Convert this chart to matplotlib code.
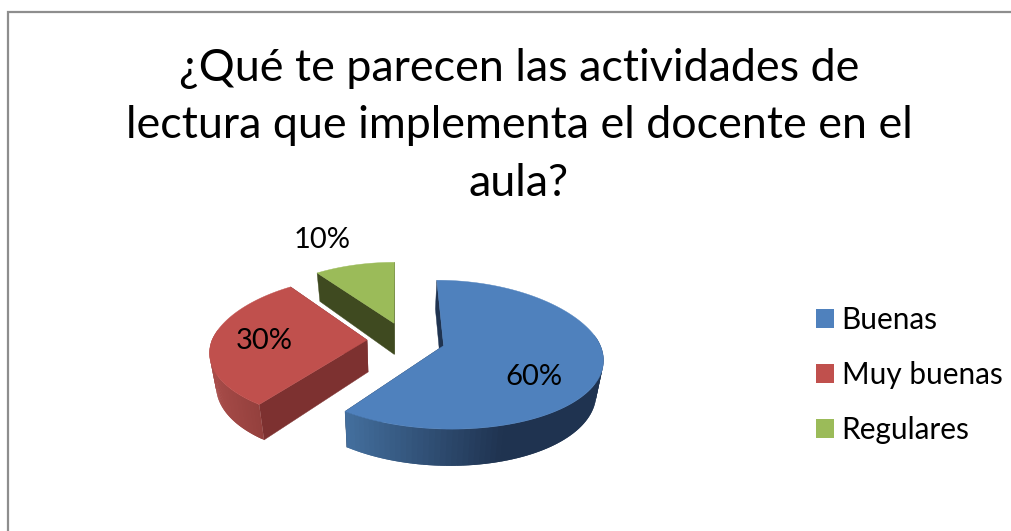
import numpy as np
import matplotlib
matplotlib.use("Agg")
import matplotlib.pyplot as plt
from matplotlib.collections import PolyCollection
from matplotlib.patches import Patch, Polygon, Rectangle
from matplotlib.colors import to_rgb

# Chart data
labels = ["Buenas", "Muy buenas", "Regulares"]
values = [60, 30, 10]
title = "¿Qué te parecen las actividades de\nlectura que implementa el docente en el\naula?"

# Look of each slice
top_colors = ["#4F81BD", "#C0504D", "#9BBB59"]
cut_colors = ["#1F3350", "#7D3130", "#3F4A20"]
arc_left = ["#44709F", "#A84C49", "#7F9A49"]
arc_right = ["#1F3350", "#94403D", "#7F9A49"]
label_pos = [(534, 377), (264, 341), (322, 240)]

# Fake 3D projection, all in pixels of the picture
CX, CY = 406, 340
RX, RY = 155, 72
PERSP = 0.12
VX = 397
EXPLODE = 0.2514
DEPTH = 32


def project(x, y):
    w = 1 + PERSP * y
    wx = 1 + np.where(np.asarray(y) > 0, 0.17, 0.15) * y
    sx = VX + (RX * x + CX - VX) / wx
    sy = CY - RY / PERSP + (RY / PERSP) / w
    return sx, sy, w


def lower(sx, sy, w):
    return sx + 0.035 * (VX - sx), sy + DEPTH / w


def slice_points(start, end, n=120):
    # start/end in degrees, going clockwise from start
    mid = np.radians((start + end) / 2)
    ox, oy = EXPLODE * np.cos(mid), EXPLODE * np.sin(mid)
    ang = np.radians(np.linspace(start, end, n))
    return ox, oy, ang


fig = plt.figure(figsize=(10.12, 5.31), dpi=100)
ax = fig.add_axes([0, 0, 1, 1])
ax.set_xlim(0, 1012)
ax.set_ylim(531, 0)
ax.axis("off")

# Frame, right and bottom edges fall outside the picture
ax.add_patch(Rectangle((8.5, 11.5), 1100, 600, fc="white", ec="#8E8E8E", lw=1.6))

ax.text(519, 126, title, ha="center", va="center", fontsize=32.3, family="Lato",
        linespacing=1.5, color="black")

start = 90.0
total = sum(values)
for i, v in enumerate(values):
    end = start - 360.0 * v / total
    ox, oy, ang = slice_points(start, end)
    px, py, pw = project(ox + np.cos(ang), oy + np.sin(ang))
    tx, ty, tw = project(ox, oy)
    bx, by = lower(px, py, pw)
    tbx, tby = lower(tx, ty, tw)

    # Flat cut faces
    for k in (0, -1):
        ax.add_patch(Polygon([(tx, ty), (px[k], py[k]), (bx[k], by[k]), (tbx, tby)],
                             fc=cut_colors[i], ec=cut_colors[i], lw=0.3))

    # Outer wall, only the part facing us, shaded left to right
    quads, cols = [], []
    c0, c1 = np.array(to_rgb(arc_left[i])), np.array(to_rgb(arc_right[i]))
    for j in range(len(ang) - 1):
        if np.sin(ang[j]) > 0.12 and np.sin(ang[j + 1]) > 0.12:
            continue
        # each strip runs under the next one so no seams show
        j2 = min(j + 2, len(ang) - 1)
        quads.append([(px[j], py[j]), (px[j2], py[j2]), (bx[j2], by[j2]), (bx[j], by[j])])
        f = np.clip((px[j] - px.min()) / (px.max() - px.min()) * 1.6, 0, 1)
        cols.append(c0 + (c1 - c0) * f)
    if quads:
        ax.add_collection(PolyCollection(quads, facecolors=cols, edgecolors="none", linewidths=0))

    # Top face
    ax.add_patch(Polygon(np.column_stack([np.r_[tx, px], np.r_[ty, py]]),
                         fc=top_colors[i], ec=top_colors[i], lw=0.3))

    ax.text(label_pos[i][0], label_pos[i][1], f"{v}%", ha="center", va="center",
            fontsize=21, family="Lato", color="black")
    start = end

# Legend
handles = [Patch(fc=c, ec="none") for c in top_colors]
ax.legend(handles, labels, loc="center left", bbox_to_anchor=(816 / 1012, 1 - 375 / 531),
          frameon=False, prop={"family": "Lato", "size": 21.4}, handlelength=0.6,
          handleheight=0.6, handletextpad=0.26, labelspacing=0.9, borderpad=0, borderaxespad=0)

fig.savefig("out.png", dpi=100)
